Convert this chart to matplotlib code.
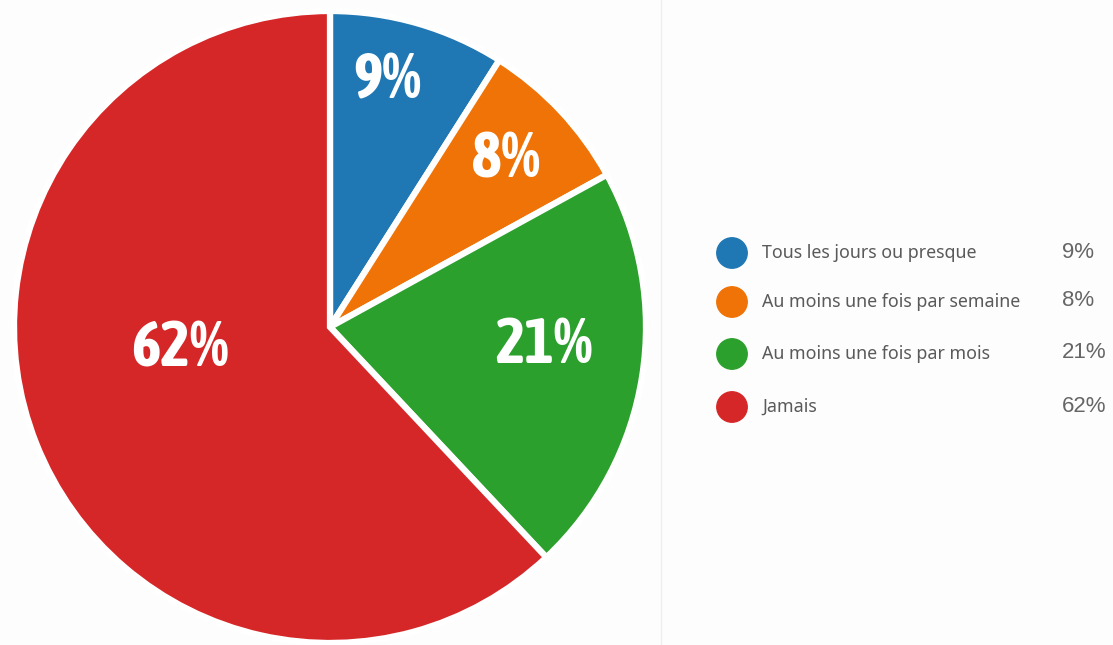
import numpy as np
import matplotlib
matplotlib.use('Agg')
import matplotlib.pyplot as plt
from matplotlib import font_manager

categories = ['Tous les jours ou presque', 'Au moins une fois par semaine',
              'Au moins une fois par mois', 'Jamais']
values = [9, 8, 21, 62]
colors = ['#1f77b4', '#ef7306', '#2ca02c', '#d62728']

# label placement (angle in deg, radius as fraction of pie radius)
label_angles = [77.0, 43.5, -5.0, -171.5]
label_radii = [0.80, 0.77, 0.68, 0.48]

# look for a narrow bold face for the big labels
big_font, big_stretch = 'DejaVu Sans', 'condensed'
for f in font_manager.fontManager.ttflist:
    if ('Narrow' in f.name or 'Condensed' in f.name) and f.weight in ('bold', 700):
        big_font, big_stretch = f.name, 'normal'
        break
small_font = 'Noto Sans'

W, H = 1113, 645
fig = plt.figure(figsize=(W / 100, H / 100), dpi=100)
fig.patch.set_facecolor('#fdfdfd')

# pie: centre (330, 327), radius 316 px
cx, cy, R = 330, 327, 316
pad = 1.01
ax = fig.add_axes([(cx - R * pad) / W, (H - cy - R * pad) / H,
                   2 * R * pad / W, 2 * R * pad / H])
ax.pie(values, colors=colors, startangle=90, counterclock=False, radius=1,
       wedgeprops=dict(edgecolor='white', linewidth=4.5))
ax.set_xlim(-pad, pad)
ax.set_ylim(-pad, pad)
ax.set_aspect('equal')
ax.axis('off')

for v, a, r in zip(values, label_angles, label_radii):
    t = np.deg2rad(a)
    ax.text(r * np.cos(t), r * np.sin(t), f'{v}%', ha='center', va='center',
            color='white', fontsize=45, fontweight='bold', family=big_font,
            fontstretch=big_stretch)

# overlay in pixel coordinates for the legend
ov = fig.add_axes([0, 0, 1, 1])
ov.set_xlim(0, W)
ov.set_ylim(H, 0)
ov.axis('off')
ov.axvline(661, color='#eeeeee', linewidth=1)

leg_y = [253, 302, 354, 407]
ov.scatter([732] * len(values), leg_y, s=480, c=colors, zorder=3)
for name, v, y in zip(categories, values, leg_y):
    ov.text(762, y, name, ha='left', va='center', fontsize=12.8,
            color='#5a5a5a', family=small_font)
    ov.text(1062, y - 1, f'{v}%', ha='left', va='center', fontsize=16,
            color='#666666', family='Liberation Sans')

fig.savefig('out.png', dpi=100, facecolor=fig.get_facecolor())
